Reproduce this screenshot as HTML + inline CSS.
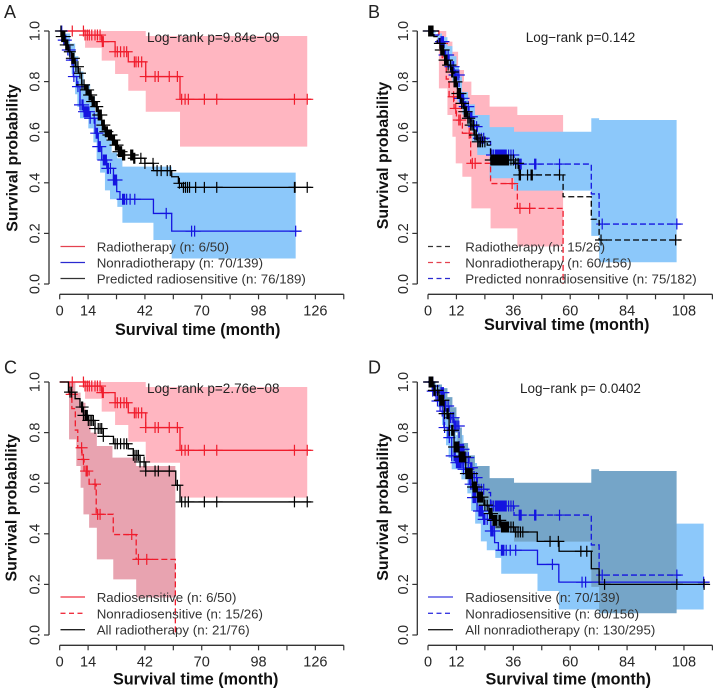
<!DOCTYPE html>
<html lang="en">
<head>
<meta charset="utf-8">
<title>Kaplan-Meier survival curves</title>
<style>
html,body{margin:0;padding:0;background:#fff;}
svg{display:block;filter:blur(0.3px);}
text{font-family:"Liberation Sans",sans-serif;fill:#262626;}
.tick{font-size:14.5px;}
.leg{font-size:13.3px;fill:#333;}
.log{font-size:13.5px;fill:#222;}
.ttl{font-size:16.2px;font-weight:bold;fill:#111;}
.yttl{font-size:15.9px;font-weight:bold;fill:#111;}
.let{font-size:18px;fill:#222;}
</style>
</head>
<body>
<svg id="figure" width="718" height="694" viewBox="0 0 718 694" xmlns="http://www.w3.org/2000/svg">
<g id="panel-a"><g id="marks-a"></g>
<text class="let" x="4" y="18">A</text>
<text class="log" x="147" y="42">Log−rank p=9.84e−09</text>
<text class="ttl" x="197.7" y="335" text-anchor="middle">Survival time (month)</text>
<text class="yttl" transform="translate(17.5,158) rotate(-90)" text-anchor="middle">Survival probability</text>
<line x1="60.5" x2="85" y1="246.5" y2="246.5" stroke="#e4424f" stroke-width="1.3"/>
<text class="leg" x="96.7" y="251.5">Radiotherapy (n: 6/50)</text>
<line x1="60.5" x2="85" y1="262.5" y2="262.5" stroke="#2a2ad0" stroke-width="1.3"/>
<text class="leg" x="96.7" y="267.5">Nonradiotherapy (n: 70/139)</text>
<line x1="60.5" x2="85" y1="278.5" y2="278.5" stroke="#333" stroke-width="1.3"/>
<text class="leg" x="96.7" y="283.5">Predicted radiosensitive (n: 76/189)</text>
</g>
<g id="panel-b"><g id="marks-b"></g>
<text class="let" x="368" y="18">B</text>
<text class="log" x="525.7" y="42">Log−rank p=0.142</text>
<text class="ttl" x="566.7" y="330" text-anchor="middle">Survival time (month)</text>
<text class="yttl" transform="translate(388,155.5) rotate(-90)" text-anchor="middle">Survival probability</text>
<line x1="428" x2="451.5" y1="246.5" y2="246.5" stroke="#333" stroke-width="1.3" stroke-dasharray="5 3.5"/>
<text class="leg" x="465.3" y="251.5">Radiotherapy (n: 15/26)</text>
<line x1="428" x2="451.5" y1="262.5" y2="262.5" stroke="#e4424f" stroke-width="1.3" stroke-dasharray="5 3.5"/>
<text class="leg" x="465.3" y="267.5">Nonradiotherapy (n: 60/156)</text>
<line x1="428" x2="451.5" y1="278.5" y2="278.5" stroke="#2a2ad0" stroke-width="1.3" stroke-dasharray="5 3.5"/>
<text class="leg" x="465.3" y="283.5">Predicted nonradiosensitive (n: 75/182)</text>
</g>
<g id="panel-c"><g id="marks-c"></g>
<text class="let" x="4" y="373.5">C</text>
<text class="log" x="147" y="393">Log−rank p=2.76e−08</text>
<text class="ttl" x="195.7" y="684.5" text-anchor="middle">Survival time (month)</text>
<text class="yttl" transform="translate(16.7,507.8) rotate(-90)" text-anchor="middle">Survival probability</text>
<line x1="60.5" x2="85" y1="597" y2="597" stroke="#f03040" stroke-width="1.3"/>
<text class="leg" x="96.7" y="602">Radiosensitive (n: 6/50)</text>
<line x1="60.5" x2="85" y1="613.3" y2="613.3" stroke="#f03040" stroke-width="1.3" stroke-dasharray="5 3.5"/>
<text class="leg" x="96.7" y="618.3">Nonradiosensitive (n: 15/26)</text>
<line x1="60.5" x2="85" y1="629.7" y2="629.7" stroke="#222" stroke-width="1.3"/>
<text class="leg" x="96.7" y="634.7">All radiotherapy (n: 21/76)</text>
</g>
<g id="panel-d"><g id="marks-d"></g>
<text class="let" x="368" y="373.5">D</text>
<text class="log" x="520" y="393">Log−rank p= 0.0402</text>
<text class="ttl" x="568.3" y="684.5" text-anchor="middle">Survival time (month)</text>
<text class="yttl" transform="translate(388,507) rotate(-90)" text-anchor="middle">Survival probability</text>
<line x1="428" x2="453" y1="597" y2="597" stroke="#3a3ae0" stroke-width="1.3"/>
<text class="leg" x="465.3" y="602">Radiosensitive (n: 70/139)</text>
<line x1="428" x2="453" y1="613.3" y2="613.3" stroke="#3a3ae0" stroke-width="1.3" stroke-dasharray="5 3.5"/>
<text class="leg" x="465.3" y="618.3">Nonradiosensitive (n: 60/156)</text>
<line x1="428" x2="453" y1="629.7" y2="629.7" stroke="#222" stroke-width="1.3"/>
<text class="leg" x="465.3" y="634.7">All nonradiotherapy (n: 130/295)</text>
</g>
</svg>
<script>
// ---------- tick labels ----------
const yTickValues = [0, 0.2, 0.4, 0.6, 0.8, 1];
const xTicksAC = [0, 14, 28, 42, 56, 70, 84, 98, 112, 126, 140];
const xLabelsAC = [0, 14, 42, 70, 98, 126];
const xTicksBD = [0, 12, 24, 36, 48, 60, 72, 84, 96, 108, 120];
const xLabelsBD = [0, 12, 36, 60, 84, 108];

// ---------- radiotherapy, radiosensitive (A, C) ----------
const rsRadioTimes = [0, 12.5, 20.7, 27.3, 33.8, 42.4, 59.3];
const rsRadioSurv = [1, 0.984, 0.958, 0.918, 0.878, 0.82, 0.73];
const rsRadioEnd = 124;
const rsRadioCensor = [6.2, 11.7, 12.5, 13.6, 14.6, 15.8, 17.4, 18.6, 19.9, 21, 21.5, 27.3, 28.4, 30, 31.7, 33, 36.8, 37.6, 38.8, 40.4, 42.4, 47, 48.6, 54, 58, 60.1, 61.8, 63.4, 71.3, 77.4, 115.7, 122];
const rsRadioUpperTimes = [12.5, 42.4];
const rsRadioUpper = [1, 0.98];
const rsRadioLowerTimes = [12.5, 20.7, 27.3, 33.8, 42.4, 59.3];
const rsRadioLower = [0.934, 0.883, 0.83, 0.764, 0.681, 0.543];
const rsRadioBandEnd = 122;

// ---------- nonradiotherapy, radiosensitive (A, D) ----------
const rsNonTimes = [0, 1.8, 3.4, 5.1, 6.7, 8.4, 10, 11.7, 15, 17.4, 19, 20.7, 23.2, 26.5, 28.1, 29.7, 46.2, 55.2];
const rsNonSurv = [1, 0.964, 0.925, 0.885, 0.82, 0.78, 0.708, 0.681, 0.655, 0.596, 0.543, 0.49, 0.457, 0.411, 0.365, 0.335, 0.279, 0.209];
const rsNonEnd = 118.8;
const rsNonCensor = [1, 2, 3, 4, 5, 6, 7, 9, 10, 11, 11.5, 12, 12.3, 12.7, 13, 13.4, 13.8, 14.4, 15, 17, 18, 18.6, 19, 19.5, 20, 21.5, 22, 22.5, 23, 23.5, 24, 25, 26.5, 27, 27.4, 28, 31, 31.5, 32, 33, 34.7, 37, 52.5, 65, 66.5, 116.3];
const rsNonUpperTimes = [1.8, 5.1, 7.6, 9.2, 11.7, 15, 17.4, 20.7, 23.2, 25.6, 28.4, 30.9, 55.2];
const rsNonUpper = [0.99, 0.95, 0.9, 0.84, 0.79, 0.74, 0.68, 0.62, 0.57, 0.52, 0.497, 0.464, 0.44];
const rsNonLowerTimes = [1.8, 2.6, 4.3, 5.9, 7.6, 8.7, 10, 14.1, 16.6, 18.2, 19.9, 22.3, 24.8, 28.4, 30.9, 46.2, 55.2];
const rsNonLower = [0.98, 0.96, 0.9, 0.83, 0.75, 0.7, 0.655, 0.615, 0.56, 0.49, 0.44, 0.37, 0.335, 0.305, 0.242, 0.174, 0.101];
const rsNonBandEnd = 116.3;

// ---------- predicted radiosensitive (A) ----------
const predRsTimes = [0, 1, 2.6, 4.3, 5.9, 7.6, 9.2, 10.8, 12.5, 14.1, 15.8, 17.4, 19, 20.7, 22.3, 24, 25.6, 27.3, 28.9, 30.6, 36.3, 42, 46.2, 55.2, 58.5, 60.1];
const predRsSurv = [1, 0.978, 0.945, 0.918, 0.892, 0.859, 0.833, 0.787, 0.767, 0.747, 0.721, 0.701, 0.668, 0.628, 0.602, 0.589, 0.569, 0.549, 0.523, 0.51, 0.497, 0.477, 0.448, 0.424, 0.398, 0.382];
const predRsEnd = 124;
const predRsCensor = [0.6, 1, 1.3, 1.6, 2, 2.5, 3, 3.5, 4, 5, 6, 6.5, 7, 8, 9, 10, 11, 12, 13, 13.5, 14, 14.5, 15, 15.5, 16, 16.5, 17, 18, 18.5, 19, 19.5, 20, 20.5, 21, 21.5, 22, 22.5, 23, 23.5, 24, 24.5, 25, 25.5, 26, 26.5, 27, 27.5, 28, 28.5, 29, 29.5, 30, 30.5, 31, 31.5, 32, 35, 35.5, 36, 36.5, 37, 40, 42, 46, 48, 50, 53, 54.5, 59, 61, 62, 63, 64, 67, 71.3, 77.4, 115.7, 116, 122];

// ---------- radiotherapy, nonradiosensitive (B, C) ----------
const nrRadioTimes = [0, 4.6, 6, 7.7, 8.9, 11, 12, 14.5, 18, 26.4, 37.7, 57];
const nrRadioSurv = [1, 0.951, 0.895, 0.81, 0.74, 0.694, 0.648, 0.596, 0.477, 0.397, 0.299, 0];
const nrRadioEnd = 57;
const nrRadioCensor = [5.9, 10.8, 11.7, 13, 13.6, 17.4, 18.7, 19.9, 35.5, 38.8, 42.9];
const nrRadioUpperTimes = [4.6, 7.7, 10.3, 12.7, 15.2, 18.3, 26, 37.7];
const nrRadioUpper = [1, 0.958, 0.918, 0.846, 0.8, 0.747, 0.701, 0.668];
const nrRadioLowerTimes = [4.6, 8.2, 10.3, 11.7, 14.5, 18.3, 26.4, 37.7];
const nrRadioLower = [0.773, 0.668, 0.582, 0.477, 0.424, 0.299, 0.22, 0.148];
const nrRadioBandEnd = 57;

// ---------- nonradiotherapy, nonradiosensitive (B, D) ----------
const nrNonTimes = [0, 2.5, 4.6, 6.8, 8.9, 11, 13.1, 15.2, 17.3, 19.4, 20.8, 25, 26.4, 36.3, 68.9, 72.2];
const nrNonSurv = [1, 0.984, 0.958, 0.905, 0.859, 0.826, 0.734, 0.701, 0.661, 0.622, 0.576, 0.563, 0.51, 0.474, 0.356, 0.237];
const nrNonEnd = 106.6;
const nrNonCensor = [0.5, 1, 1.5, 2, 5.5, 6, 6.5, 7, 7.5, 8.5, 9.5, 10.2, 10.8, 11.2, 11.7, 12.3, 13, 13.5, 14, 14.5, 15, 15.5, 16, 17, 18, 18.5, 19.5, 20.5, 21.5, 22.5, 23.5, 27, 27.7, 28.5, 29, 29.5, 30, 30.5, 31, 31.5, 32, 32.5, 33, 34, 35, 36, 38.5, 39, 39.3, 45, 45.5, 55.5, 73.5, 105];
const nrNonUpperTimes = [1, 3.2, 5.9, 8.2, 10.3, 12, 13.1, 14.3, 16.9, 19.8, 26, 36.3, 68.9, 72.2];
const nrNonUpper = [1, 0.99, 0.976, 0.94, 0.9, 0.86, 0.82, 0.759, 0.71, 0.668, 0.62, 0.602, 0.655, 0.648];
const nrNonLowerTimes = [1, 3.9, 6, 8.2, 10.3, 12.4, 14.5, 16.6, 18.7, 20.8, 26, 36.3, 68.9, 72.2];
const nrNonLower = [0.99, 0.95, 0.9, 0.85, 0.8, 0.72, 0.67, 0.62, 0.56, 0.51, 0.418, 0.369, 0.19, 0.086];
const nrNonBandEnd = 104.9;

// ---------- predicted nonradiosensitive, radiotherapy curve in black (B) ----------
const predNrTimes = [0, 2.5, 3.9, 5.3, 6.8, 8.2, 9.6, 11, 12.4, 13.8, 15.2, 16.6, 18, 19.4, 20.8, 25, 26.4, 36.3, 38.4, 57, 68.9, 72.2];
const predNrSurv = [1, 0.978, 0.951, 0.925, 0.885, 0.865, 0.838, 0.799, 0.753, 0.714, 0.681, 0.655, 0.628, 0.589, 0.562, 0.549, 0.49, 0.477, 0.431, 0.345, 0.256, 0.174];
const predNrEnd = 106.6;
const predNrCensor = [0.3, 0.6, 0.9, 1.2, 1.5, 1.8, 2.1, 5, 5.4, 5.8, 6.2, 6.6, 7, 7.5, 8, 8.5, 9.5, 10, 10.5, 11, 11.5, 12, 12.4, 12.8, 13.2, 13.7, 14.2, 14.8, 15.3, 15.8, 16.3, 16.8, 17.4, 18, 18.6, 19.2, 19.8, 20.4, 21, 21.6, 22.2, 23, 24, 26.5, 27, 27.5, 28, 28.5, 29, 29.5, 30, 30.5, 31, 31.5, 32, 32.5, 33, 33.5, 34, 35, 36, 37, 38, 38.5, 39, 42, 43.5, 44, 55.5, 73, 104.5];

// ---------- all radiotherapy (C) ----------
const allRadioTimes = [0, 4.3, 7.6, 10, 11.7, 14.1, 17.4, 21.5, 26.5, 33.8, 36.3, 39.6, 42.4, 57.2, 59.3];
const allRadioSurv = [1, 0.96, 0.934, 0.901, 0.868, 0.848, 0.816, 0.785, 0.756, 0.736, 0.71, 0.684, 0.648, 0.592, 0.526];
const allRadioEnd = 124;
const allRadioCensor = [5.1, 5.9, 10.8, 11.3, 11.7, 12.5, 13, 13.6, 14.1, 15, 15.8, 16.6, 17.4, 19, 19.9, 20.7, 21.5, 27.3, 28.4, 30, 31.7, 33, 36.3, 37.1, 38, 38.8, 39.6, 41.6, 42.4, 47, 48.6, 54, 58, 60.1, 61.8, 63.4, 71.3, 77.4, 115.7, 122];

// ---------- all nonradiotherapy (D) ----------
const allNonTimes = [0, 2.5, 4.6, 6.8, 8.9, 11, 13.1, 15.9, 18.7, 20.8, 23.6, 25.7, 27.1, 30.7, 36.3, 46.1, 55.3, 68.9, 72.2];
const allNonSurv = [1, 0.967, 0.928, 0.875, 0.809, 0.743, 0.704, 0.638, 0.585, 0.545, 0.513, 0.48, 0.453, 0.427, 0.407, 0.37, 0.331, 0.262, 0.2];
const allNonEnd = 118.6;
const allNonCensor = [0.5, 0.8, 1, 1.3, 1.5, 2, 2.5, 3, 4, 5, 5.5, 6, 6.5, 7, 8, 8.5, 9, 10, 10.5, 11, 11.3, 11.6, 12, 12.3, 12.6, 13, 13.3, 13.6, 14, 14.3, 14.6, 15, 15.3, 15.6, 16, 16.3, 16.6, 17, 17.3, 17.6, 18, 18.3, 18.6, 19, 19.3, 19.6, 20, 20.5, 21, 21.5, 22, 22.5, 23, 24, 25, 26, 26.5, 27, 27.5, 28, 28.5, 29, 30, 30.5, 31, 31.5, 32, 32.5, 33, 33.5, 34, 35, 36, 37, 38, 39, 40, 51.5, 55, 64.5, 67, 74.5, 105, 116.5];

const SVGNS = 'http://www.w3.org/2000/svg';
function mk(parent, tag, attrs, txt) {
  const el = document.createElementNS(SVGNS, tag);
  for (const k in attrs) el.setAttribute(k, attrs[k]);
  if (txt !== undefined) el.textContent = txt;
  parent.appendChild(el);
  return el;
}
function makeScales(p) {
  return {
    x: t => p.x0 + t * p.pxPerMonth,
    y: s => p.yBottom - s * (p.yBottom - p.yTop)
  };
}
function survAt(times, surv, t) {
  let v = surv[0];
  for (let i = 0; i < times.length; i++) { if (times[i] <= t) v = surv[i]; }
  return v;
}
function drawBand(g, sc, name, color, upT, upV, loT, loV, end) {
  let d = 'M' + sc.x(upT[0]) + ' ' + sc.y(upV[0]);
  for (let i = 1; i < upT.length; i++) d += 'H' + sc.x(upT[i]) + 'V' + sc.y(upV[i]);
  d += 'H' + sc.x(end) + 'V' + sc.y(loV[loV.length - 1]);
  for (let i = loT.length - 1; i > 0; i--) d += 'H' + sc.x(loT[i]) + 'V' + sc.y(loV[i - 1]);
  d += 'H' + sc.x(loT[0]) + 'Z';
  const el = mk(g, 'path', { d: d, fill: color, stroke: 'none' });
  
  
}
function drawCurve(g, sc, name, color, dash, times, surv, end, censor) {
  let d = 'M' + sc.x(times[0]) + ' ' + sc.y(surv[0]);
  for (let i = 1; i < times.length; i++) d += 'H' + sc.x(times[i]) + 'V' + sc.y(surv[i]);
  d += 'H' + sc.x(end);
  const line = mk(g, 'path', { d: d, fill: 'none', stroke: color, 'stroke-width': 1.3 });
  if (dash) line.setAttribute('stroke-dasharray', '6 3');
  
  
  let m = '';
  censor.forEach(t => {
    const cx = sc.x(t), cy = sc.y(survAt(times, surv, t));
    m += 'M' + (cx - 6) + ' ' + cy + 'H' + (cx + 6) + 'M' + cx + ' ' + (cy - 5.5) + 'V' + (cy + 5.5);
  });
  const marks = mk(g, 'path', { d: m, fill: 'none', stroke: color, 'stroke-width': 1.2 });
  
  
}
function drawAxes(g, p, sc, xTicks, xLabels) {
  const axisColor = '#333';
  const yAxis = mk(g, 'line', { x1: p.yAxisX, x2: p.yAxisX, y1: sc.y(0), y2: sc.y(1), stroke: axisColor, 'stroke-width': 1.3 });
  
  
  yTickValues.forEach(v => {
    const t = mk(g, 'line', { x1: p.yAxisX - 5, x2: p.yAxisX, y1: sc.y(v), y2: sc.y(v), stroke: axisColor, 'stroke-width': 1.2 });
    
    
    const l = mk(g, 'text', { class: 'tick', 'text-anchor': 'middle', transform: 'translate(' + (p.yAxisX - 9.5) + ',' + sc.y(v) + ') rotate(-90)' }, v.toFixed(1));
    
    
  });
  const xAxis = mk(g, 'line', { x1: sc.x(xTicks[0]), x2: sc.x(xTicks[xTicks.length - 1]), y1: p.xAxisY, y2: p.xAxisY, stroke: axisColor, 'stroke-width': 1.3 });
  
  
  xTicks.forEach(v => {
    const t = mk(g, 'line', { x1: sc.x(v), x2: sc.x(v), y1: p.xAxisY, y2: p.xAxisY + 5, stroke: axisColor, 'stroke-width': 1.2 });
    
    
  });
  xLabels.forEach(v => {
    const l = mk(g, 'text', { class: 'tick', 'text-anchor': 'middle', x: sc.x(v), y: p.xAxisY + 21 }, String(v));
    
    
  });
}

const PINK = '#ffb6c1', ROSE = '#e8a3b0', SKY = '#8cc8fa', STEEL = '#75a5c8';
const RED = '#f01c2c', BLUE = '#1414e0', BLACK = '#000';

// Panel A
(function () {
  const p = { x0: 59.7, pxPerMonth: 2.029, yTop: 31, yBottom: 284, yAxisX: 49, xAxisY: 294.3 };
  const g = document.getElementById('marks-a'), sc = makeScales(p);
  drawBand(g, sc, 'radiotherapy-ci-band', PINK, rsRadioUpperTimes, rsRadioUpper, rsRadioLowerTimes, rsRadioLower, rsRadioBandEnd);
  drawBand(g, sc, 'nonradiotherapy-ci-band', SKY, rsNonUpperTimes, rsNonUpper, rsNonLowerTimes, rsNonLower, rsNonBandEnd);
  drawAxes(g, p, sc, xTicksAC, xLabelsAC);
  drawCurve(g, sc, 'radiotherapy', RED, false, rsRadioTimes, rsRadioSurv, rsRadioEnd, rsRadioCensor);
  drawCurve(g, sc, 'nonradiotherapy', BLUE, false, rsNonTimes, rsNonSurv, rsNonEnd, rsNonCensor);
  drawCurve(g, sc, 'predicted-radiosensitive', BLACK, false, predRsTimes, predRsSurv, predRsEnd, predRsCensor);
})();
// Panel B
(function () {
  const p = { x0: 428, pxPerMonth: 2.37, yTop: 31, yBottom: 284, yAxisX: 417.3, xAxisY: 294.3 };
  const g = document.getElementById('marks-b'), sc = makeScales(p);
  drawBand(g, sc, 'nonradiotherapy-ci-band', PINK, nrRadioUpperTimes, nrRadioUpper, nrRadioLowerTimes, nrRadioLower, nrRadioBandEnd);
  drawBand(g, sc, 'predicted-nonradiosensitive-ci-band', SKY, nrNonUpperTimes, nrNonUpper, nrNonLowerTimes, nrNonLower, nrNonBandEnd);
  drawAxes(g, p, sc, xTicksBD, xLabelsBD);
  drawCurve(g, sc, 'nonradiotherapy', RED, true, nrRadioTimes, nrRadioSurv, nrRadioEnd, nrRadioCensor);
  drawCurve(g, sc, 'predicted-nonradiosensitive', BLUE, true, nrNonTimes, nrNonSurv, nrNonEnd, nrNonCensor);
  drawCurve(g, sc, 'radiotherapy', BLACK, true, predNrTimes, predNrSurv, predNrEnd, predNrCensor);
})();
// Panel C
(function () {
  const p = { x0: 59.7, pxPerMonth: 2.029, yTop: 382, yBottom: 635, yAxisX: 49, xAxisY: 645.3 };
  const g = document.getElementById('marks-c'), sc = makeScales(p);
  drawBand(g, sc, 'radiosensitive-ci-band', PINK, rsRadioUpperTimes, rsRadioUpper, rsRadioLowerTimes, rsRadioLower, rsRadioBandEnd);
  drawBand(g, sc, 'nonradiosensitive-ci-band', ROSE, nrRadioUpperTimes, nrRadioUpper, nrRadioLowerTimes, nrRadioLower, nrRadioBandEnd);
  drawAxes(g, p, sc, xTicksAC, xLabelsAC);
  drawCurve(g, sc, 'radiosensitive', RED, false, rsRadioTimes, rsRadioSurv, rsRadioEnd, rsRadioCensor);
  drawCurve(g, sc, 'nonradiosensitive', RED, true, nrRadioTimes, nrRadioSurv, nrRadioEnd, nrRadioCensor);
  drawCurve(g, sc, 'all-radiotherapy', BLACK, false, allRadioTimes, allRadioSurv, allRadioEnd, allRadioCensor);
})();
// Panel D
(function () {
  const p = { x0: 428, pxPerMonth: 2.37, yTop: 382, yBottom: 635, yAxisX: 417.3, xAxisY: 645.3 };
  const g = document.getElementById('marks-d'), sc = makeScales(p);
  drawBand(g, sc, 'radiosensitive-ci-band', SKY, rsNonUpperTimes, rsNonUpper, rsNonLowerTimes, rsNonLower, rsNonBandEnd);
  drawBand(g, sc, 'nonradiosensitive-ci-band', STEEL, nrNonUpperTimes, nrNonUpper, nrNonLowerTimes, nrNonLower, nrNonBandEnd);
  drawAxes(g, p, sc, xTicksBD, xLabelsBD);
  drawCurve(g, sc, 'radiosensitive', BLUE, false, rsNonTimes, rsNonSurv, rsNonEnd, rsNonCensor);
  drawCurve(g, sc, 'nonradiosensitive', BLUE, true, nrNonTimes, nrNonSurv, nrNonEnd, nrNonCensor);
  drawCurve(g, sc, 'all-nonradiotherapy', BLACK, false, allNonTimes, allNonSurv, allNonEnd, allNonCensor);
})();
</script>
</body>
</html>
